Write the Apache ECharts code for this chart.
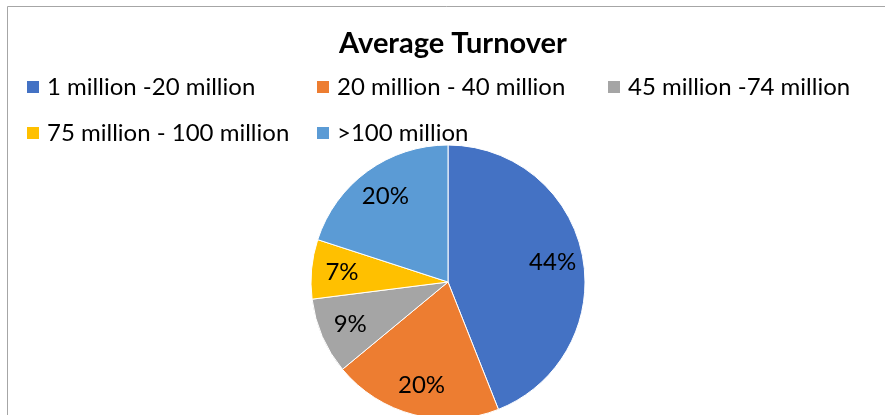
<!DOCTYPE html>
<html>
<head>
<meta charset="utf-8">
<script src="https://cdn.jsdelivr.net/npm/echarts@6/dist/echarts.min.js"></script>
<style>
  html, body { margin: 0; padding: 0; background: #fff; }
  #chart { width: 885px; height: 415px; }
</style>
</head>
<body>
<div id="chart"></div>
<script>
// Turnover bands and their share of respondents (%)
const categories = [
  '1 million -20 million',
  '20 million - 40 million',
  '45 million -74 million',
  '75 million - 100 million',
  '>100 million'
];
const shares = [44, 20, 9, 7, 20];
const colors = ['#4472C4', '#ED7D31', '#A5A5A5', '#FFC000', '#5B9BD5'];

// Legend columns (category indices per column)
const legendColumns = [[0, 3], [1, 4], [2]];
const legendLefts = [25, 315, 606];

const font = 'Lato, "Open Sans", sans-serif';
const pieData = categories.map((name, i) => ({ name, value: shares[i] }));

const chart = echarts.init(document.getElementById('chart'), null, { renderer: 'canvas' });

chart.setOption({
  animation: false,
  color: colors,
  title: {
    text: 'Average Turnover',
    left: 453,
    textAlign: 'center',
    top: 27,
    padding: 0,
    textStyle: { fontFamily: font, fontSize: 29, fontWeight: 'bold', color: '#000', lineHeight: 34 }
  },
  legend: legendColumns.map((col, k) => ({
    orient: 'vertical',
    left: legendLefts[k],
    top: 75,
    padding: 0,
    itemWidth: 14,
    itemHeight: 14,
    itemGap: 22,
    icon: 'rect',
    data: col.map(i => categories[i]),
    textStyle: { fontFamily: font, fontSize: 24, lineHeight: 24, color: '#000', padding: [0, 0, 0, 2] },
    selectedMode: false
  })),
  graphic: [{
    type: 'rect',
    shape: { x: 7.5, y: 6.5, width: 1000, height: 1000 },
    style: { fill: 'none', stroke: '#a6a6a6', lineWidth: 1 },
    silent: true,
    z: -1
  }],
  series: [
    {
      // the pie itself
      type: 'pie',
      center: [448, 282],
      radius: [0, 137],
      startAngle: 90,
      clockwise: true,
      data: pieData,
      itemStyle: { borderColor: '#fff', borderWidth: 1 },
      label: { show: false },
      labelLine: { show: false },
      silent: true
    },
    {
      // transparent ring carrying the percentage labels further out
      type: 'pie',
      center: [448, 282],
      radius: [70, 137],
      startAngle: 90,
      clockwise: true,
      data: pieData,
      itemStyle: { color: 'rgba(0,0,0,0)' },
      label: {
        show: true,
        position: 'inside',
        formatter: '{c}%',
        fontFamily: font,
        fontSize: 24,
        color: '#000'
      },
      labelLine: { show: false },
      silent: true
    }
  ]
});
</script>
</body>
</html>
